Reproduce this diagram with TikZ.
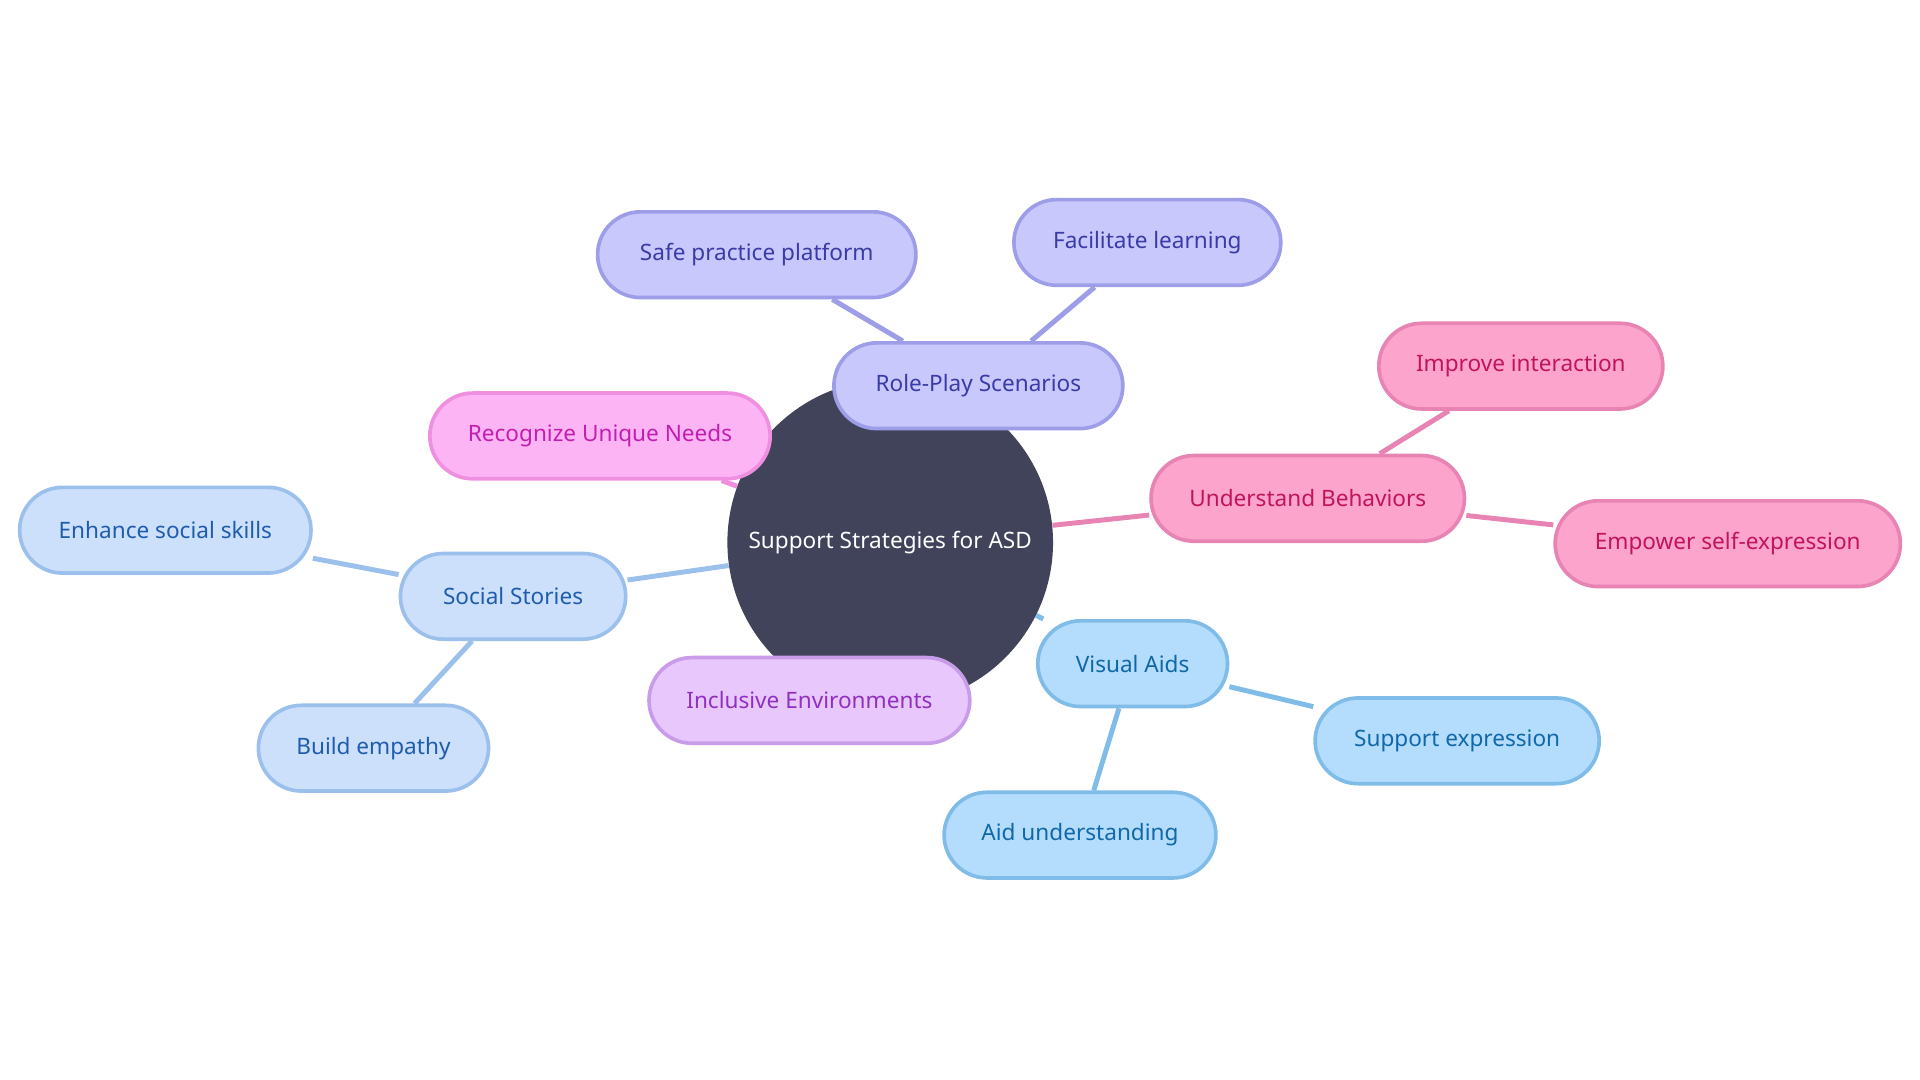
\documentclass[tikz,border=0pt]{standalone}
\usepackage{fontspec}
\setmainfont{Noto Sans}
\usetikzlibrary{positioning,backgrounds}
\definecolor{hubfill}{HTML}{404359}
\definecolor{rpfill}{HTML}{C8C8FC}\definecolor{rpline}{HTML}{9D9DE8}\definecolor{rptext}{HTML}{3A3AA8}
\definecolor{rnfill}{HTML}{FCB4F4}\definecolor{rnline}{HTML}{F08EE0}\definecolor{rntext}{HTML}{C21FB0}
\definecolor{ubfill}{HTML}{FCA4CC}\definecolor{ubline}{HTML}{E884B4}\definecolor{ubtext}{HTML}{C0145C}
\definecolor{ssfill}{HTML}{CCE0FC}\definecolor{ssline}{HTML}{9CC0EC}\definecolor{sstext}{HTML}{1F5CAC}
\definecolor{iefill}{HTML}{E8C8FC}\definecolor{ieline}{HTML}{C89CE8}\definecolor{ietext}{HTML}{9030C0}
\definecolor{vafill}{HTML}{B4DCFC}\definecolor{valine}{HTML}{80BCE8}\definecolor{vatext}{HTML}{1068A8}
\tikzset{
  box/.style={rectangle,rounded corners=0.7cm,line width=1.7pt,minimum height=1.4cm,
    font=\fontsize{10.5}{12}\selectfont,inner sep=0pt},
  rp/.style={box,fill=rpfill,draw=rpline,text=rptext},
  rn/.style={box,fill=rnfill,draw=rnline,text=rntext},
  ub/.style={box,fill=ubfill,draw=ubline,text=ubtext},
  ss/.style={box,fill=ssfill,draw=ssline,text=sstext},
  ie/.style={box,fill=iefill,draw=ieline,text=ietext},
  va/.style={box,fill=vafill,draw=valine,text=vatext},
  link/.style={line width=2.3pt},
}
\begin{document}
\begin{tikzpicture}[x=0.02cm,y=-0.02cm]
\useasboundingbox (0,0) rectangle (1568,882);
\node[circle,fill=hubfill,minimum size=5.32cm,text=white,font=\fontsize{10.5}{12}\selectfont] (hub) at (727,443) {Support Strategies for ASD};
% role play
\node[rp,minimum width=4.72cm] (role) at (799,315) {Role-Play Scenarios};
\node[rp,minimum width=5.2cm] (safe) at (618,208) {Safe practice platform};
\node[rp,minimum width=4.36cm] (facil) at (937,198) {Facilitate learning};
% needs
\node[rn,minimum width=5.56cm] (needs) at (490,356) {Recognize Unique Needs};
% behaviors
\node[ub,minimum width=5.12cm] (behav) at (1068,407) {Understand Behaviors};
\node[ub,minimum width=4.64cm] (inter) at (1242,299) {Improve interaction};
\node[ub,minimum width=5.64cm] (empow) at (1411,444) {Empower self-expression};
% stories
\node[ss,minimum width=3.68cm] (stories) at (419,487) {Social Stories};
\node[ss,minimum width=4.76cm] (social) at (135,433) {Enhance social skills};
\node[ss,minimum width=3.76cm] (empathy) at (305,611) {Build empathy};
% environments
\node[ie,minimum width=5.24cm] (incl) at (661,572) {Inclusive Environments};
% visual
\node[va,minimum width=3.1cm] (visual) at (925,542) {Visual Aids};
\node[va,minimum width=4.64cm] (suppexp) at (1190,605) {Support expression};
\node[va,minimum width=4.44cm] (aid) at (882,682) {Aid understanding};
\begin{scope}[on background layer]
\draw[link,rpline] (hub) -- (role) (role) -- (safe) (role) -- (facil);
\draw[link,rnline] (hub) -- (needs);
\draw[link,ubline] (hub) -- (behav) (behav) -- (inter) (behav) -- (empow);
\draw[link,ssline] (hub) -- (stories) (stories) -- (social) (stories) -- (empathy);
\draw[link,ieline] (hub) -- (incl);
\draw[link,valine] (hub) -- (visual) (visual) -- (suppexp) (visual) -- (aid);
\end{scope}
\end{tikzpicture}
\end{document}
